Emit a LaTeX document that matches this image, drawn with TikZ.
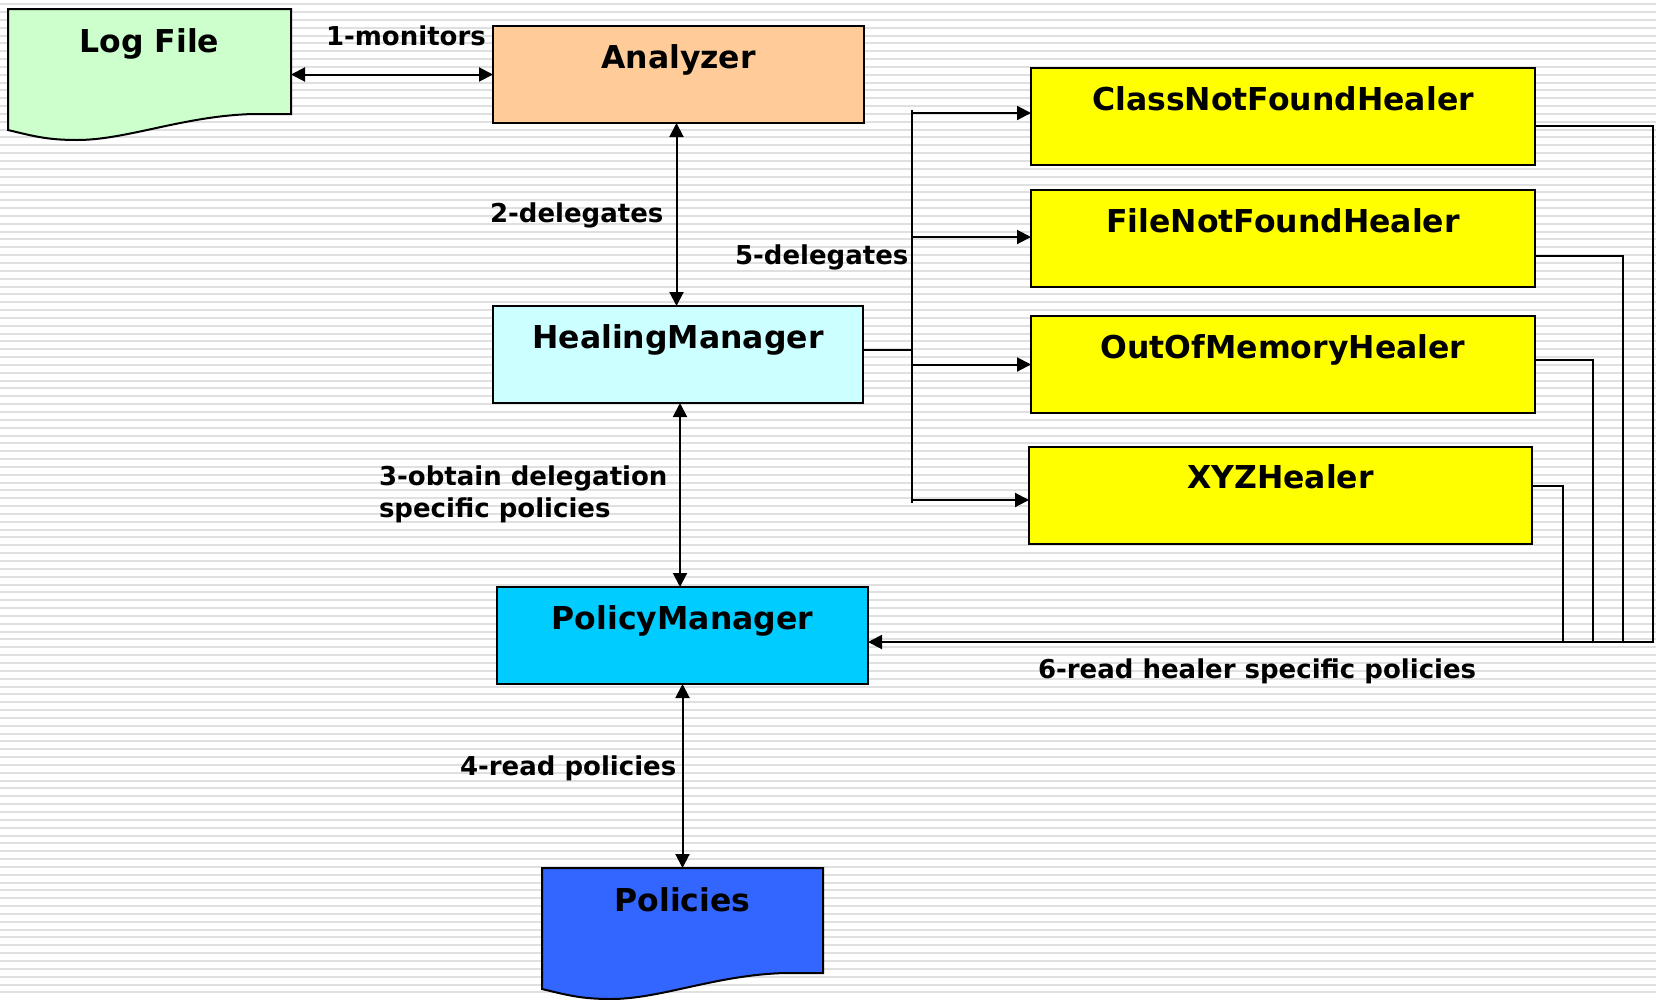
\documentclass[tikz,border=0pt]{standalone}
\usepackage{fontspec}
\setmainfont{DejaVu Sans}
\usetikzlibrary{arrows.meta,backgrounds,calc}

\definecolor{logfill}{HTML}{CCFFCC}
\definecolor{anfill}{HTML}{FFCC99}
\definecolor{hmfill}{HTML}{CCFFFF}
\definecolor{pmfill}{HTML}{00CCFF}
\definecolor{polfill}{HTML}{3366FF}
\definecolor{healfill}{HTML}{FFFF00}
\definecolor{stripecol}{RGB}{224,224,224}

\newcommand{\titlefont}{\fontsize{31.5}{38}\selectfont\bfseries}
\newcommand{\labelfont}{\fontsize{26}{32}\selectfont\bfseries}

% outline of a document-shaped store, with a wavy lower edge
\newcommand{\docoutline}[2]{%
  \path[docline, fill=#2] (#1.north west) -- (#1.north east) -- (#1.south east)
    -- ($(#1.south east)+(-38,0)$)
    .. controls +(-70,2) and +(50,0) .. ($(#1.south west)+(69,26)$)
    .. controls +(-30,0) and +(25,6) .. ($(#1.south west)+(0,16)$)
    -- cycle;}

\begin{document}
\begin{tikzpicture}[x=1pt,y=-1pt,
  line width=2pt,
  box/.style={draw=black, line width=2pt, inner xsep=0pt, inner ysep=0pt,
    outer sep=0pt, text height=42pt, text depth=55pt, font=\titlefont},
  docbox/.style={draw=none, inner xsep=0pt, inner ysep=0pt, outer sep=0pt,
    text height=43pt, text depth=62pt, font=\titlefont},
  docline/.style={draw=black, line width=2pt, line join=miter},
  lbl/.style={anchor=base west, inner sep=0pt, font=\labelfont},
  tip/.tip={Triangle[length=14pt,width=14pt]},
  arr/.style={-tip, line width=2pt},
  biarr/.style={tip-tip, line width=2pt},
  wire/.style={line width=2pt},
  stripe/.style={draw=stripecol, line width=2pt}]

\useasboundingbox (0,0) rectangle (1656,999);

% striped page background
\begin{scope}[on background layer]
  \fill[white] (0,0) rectangle (1656,999);
  \foreach \k in {0,...,126}{
    \pgfmathsetmacro\yy{4.15+7.843*\k}
    \draw[stripe] (0,\yy) -- (1656,\yy);
  }
\end{scope}

% document-shaped stores
\node[docbox, minimum width=283pt] (log) at (149.5,61.5) {Log File};
\node[docbox, minimum width=281pt] (pol) at (682.5,920.5) {Policies};

% components
\node[box, fill=anfill,  minimum width=371pt] (an)  at (678.5,74.5)  {Analyzer};
\node[box, fill=hmfill,  minimum width=370pt] (hm)  at (678,354.5)   {HealingManager};
\node[box, fill=pmfill,  minimum width=371pt] (pm)  at (682.5,635.5) {PolicyManager};
\node[box, fill=healfill, minimum width=504pt] (cnf) at (1283,116.5)  {ClassNotFoundHealer};
\node[box, fill=healfill, minimum width=504pt] (fnf) at (1283,238.5)  {FileNotFoundHealer};
\node[box, fill=healfill, minimum width=504pt] (oom) at (1283,364.5)  {OutOfMemoryHealer};
\node[box, fill=healfill, minimum width=503pt] (xyz) at (1280.5,495)  {XYZHealer};

\begin{scope}[on background layer]
  \docoutline{log}{logfill}
  \docoutline{pol}{polfill}
\end{scope}

% main chain
\draw[biarr] (an.west -| log.east) -- (an.west);
\draw[biarr] ([xshift=-2pt]an.south) -- ([xshift=-2pt]an.south |- hm.north);
\draw[biarr] ([xshift=2pt]hm.south) -- ([xshift=2pt]hm.south |- pm.north);
\draw[biarr] (pm.south) -- (pol.north);

% delegation bus towards the healers
\coordinate (busTop) at (912,110);
\coordinate (busBot) at (912,503);
\draw[wire] (busTop) -- (busBot);
\draw[wire] ([yshift=4.5pt]hm.east) -- ([yshift=4.5pt]hm.east -| busTop);
\draw[arr] ([yshift=3.5pt]cnf.west -| busTop) -- ([yshift=3.5pt]cnf.west);
\draw[arr] ([yshift=1.5pt]fnf.west -| busTop) -- ([yshift=1.5pt]fnf.west);
\draw[arr] (oom.west -| busTop) -- (oom.west);
\draw[arr] ([yshift=-5pt]xyz.west -| busTop) -- ([yshift=-5pt]xyz.west);

% healers read their policies from the PolicyManager
\coordinate (ret1) at (1653,642);
\coordinate (ret2) at (1623,642);
\coordinate (ret3) at (1593,642);
\coordinate (ret4) at (1563,642);
\draw[arr] ([yshift=-9.5pt]cnf.east) -| (ret1) -- ([yshift=-6.5pt]pm.east);
\draw[wire] ([yshift=-17.5pt]fnf.east) -| (ret2);
\draw[wire] ([yshift=4.5pt]oom.east) -| (ret3);
\draw[wire] ([yshift=9pt]xyz.east) -| (ret4);

% connector labels
\node[lbl] (l1)  at (325,45)   {1-monitors};
\node[lbl] (l2)  at (489,222)  {2-delegates};
\node[lbl] (l3a) at (378,485)  {3-obtain delegation};
\node[lbl] (l3b) at (378,517)  {specific policies};
\node[lbl] (l4)  at (459,775)  {4-read policies};
\node[lbl] (l5)  at (734,264)  {5-delegates};
\node[lbl] (l6)  at (1037,678) {6-read healer specific policies};

\end{tikzpicture}
\end{document}
